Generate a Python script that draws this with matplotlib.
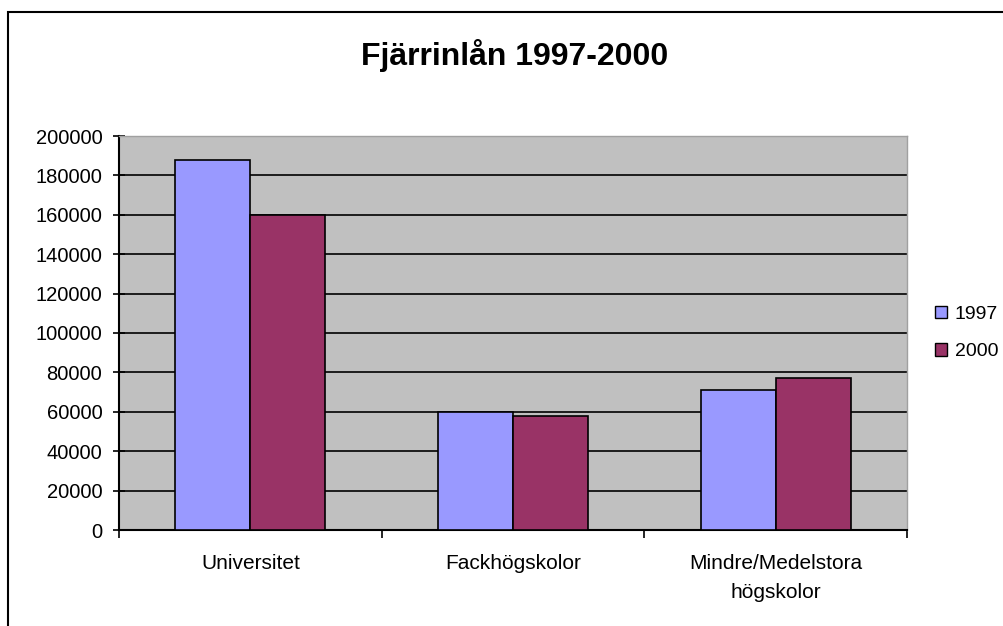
import numpy as np
import matplotlib.pyplot as plt
from matplotlib.patches import Rectangle

plt.rcParams['font.family'] = ['Liberation Sans', 'DejaVu Sans']

categories = ['Universitet', 'Fackhögskolor', 'Mindre/Medelstora\nhögskolor']
years = ['1997', '2000']
values_1997 = [188000, 60000, 71000]
values_2000 = [160000, 58000, 77000]
yticks = [0, 20000, 40000, 60000, 80000, 100000, 120000, 140000, 160000, 180000, 200000]

fig = plt.figure(figsize=(10.04, 6.26), dpi=100)
ax = fig.add_axes([119 / 1004, 1 - 530 / 626, (907 - 119) / 1004, (530 - 136) / 626])

# outer chart border (cut off at right and bottom like the source)
fig.patches.append(Rectangle((8 / 1004, -0.1), 1.2, 1.1 - 12 / 626,
                             transform=fig.transFigure, fill=False,
                             edgecolor='black', linewidth=1.5))

ax.set_facecolor('#C0C0C0')
x = np.arange(len(categories))
w = 1 / 3.5
ax.bar(x - w / 2, values_1997, w, color='#9999FF', edgecolor='black', linewidth=1.2,
       label=years[0], zorder=3)
ax.bar(x + w / 2, values_2000, w, color='#993366', edgecolor='black', linewidth=1.2,
       label=years[1], zorder=3)

ax.set_xlim(-0.5, len(categories) - 0.5)
ax.set_ylim(0, 200000)
ax.set_yticks(yticks)
ax.set_yticklabels([str(v) for v in yticks], fontsize=14.5)
ax.yaxis.grid(True, color='black', linewidth=1.2, zorder=1)
ax.set_axisbelow(True)
ax.tick_params(axis='y', direction='inout', length=8, width=1.2, pad=8)

ax.set_xticks(np.arange(len(categories) + 1) - 0.5)
ax.set_xticklabels([])
ax.set_xticks(x, minor=True)
ax.set_xticklabels(categories, minor=True, fontsize=15, linespacing=1.7)
ax.tick_params(axis='x', which='major', direction='out', length=6, width=1.2)
ax.tick_params(axis='x', which='minor', length=0, pad=17)

for s in ['left', 'bottom']:
    ax.spines[s].set_linewidth(1.5)
for s in ['top', 'right']:
    ax.spines[s].set_color('#A0A0A0')
    ax.spines[s].set_linewidth(1)

fig.text(515 / 1004, 1 - 55 / 626, 'Fjärrinlån 1997-2000', ha='center', va='center',
         fontsize=23, fontweight='bold')

leg = ax.legend(loc='center left', bbox_to_anchor=(918 / 1004, 1 - 333 / 626),
                bbox_transform=fig.transFigure, frameon=False, fontsize=14,
                handlelength=0.6, handleheight=0.6, handletextpad=0.4, labelspacing=1.05)
for h in leg.legend_handles:
    h.set_linewidth(1)

fig.savefig('out.png', dpi=100)
